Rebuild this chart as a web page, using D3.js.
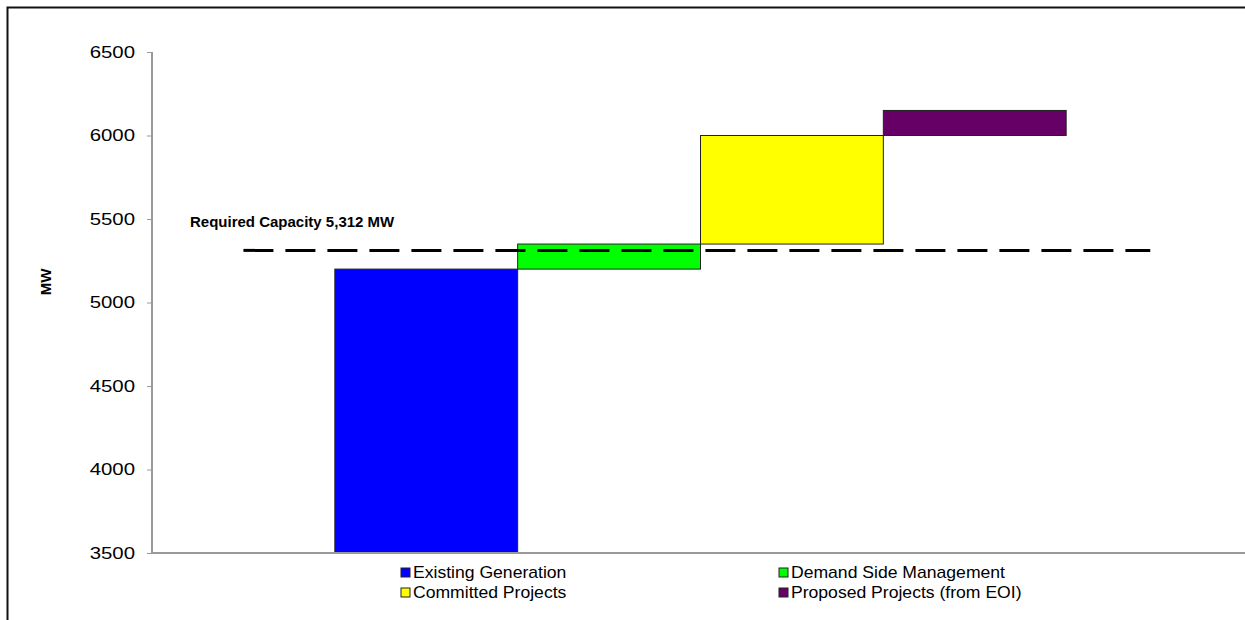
<!DOCTYPE html>
<html>
<head>
<meta charset="utf-8">
<script src="https://cdn.jsdelivr.net/npm/d3@7"></script>
<style>
  html, body { margin: 0; padding: 0; background: #fff; overflow: hidden; }
  svg { display: block; font-family: Arial, "Liberation Sans", sans-serif; }
</style>
</head>
<body>
<svg id="chart" width="1245" height="620"></svg>
<script>
// Supply build-up against the required capacity (MW)
const categories = ["Existing Generation", "Demand Side Management", "Committed Projects", "Proposed Projects (from EOI)"];
const increments = [5200, 150, 650, 150];
const colors = ["#0000ff", "#00ff00", "#ffff00", "#660066"];
const yTicks = [3500, 4000, 4500, 5000, 5500, 6000, 6500];
const requiredCapacity = 5312;
const requiredLabel = "Required Capacity 5,312 MW";
const requiredSpan = [0.5, 5.46]; // start/end of the requirement line, in slot units

const svg = d3.select("#chart");

// outer chart frame (top and left edges fall inside the view)
svg.append("path")
  .attr("d", "M7.5,620V7.5H1245")
  .attr("fill", "none").attr("stroke", "#111").attr("stroke-width", 2);

const plot = { left: 152, right: 1249, top: 52, bottom: 553 };

const y = d3.scaleLinear().domain([3500, 6500]).range([plot.bottom, plot.top]);
// six equal slots across the plot; the four steps sit in the middle four
const slot = d3.scaleLinear().domain([0, 6]).range([plot.left, plot.right]);
const x = d3.scaleBand().domain(categories)
  .range([slot(1), slot(5)]).paddingInner(0).paddingOuter(0);

// cumulative steps
let run = 0;
const steps = categories.map((c, i) => {
  const start = i === 0 ? 0 : run;
  run += increments[i];
  return { cat: c, start, end: run, color: colors[i] };
});

svg.append("clipPath").attr("id", "plotClip")
  .append("rect").attr("x", plot.left).attr("y", plot.top)
  .attr("width", plot.right - plot.left).attr("height", plot.bottom - plot.top);

svg.append("g").attr("clip-path", "url(#plotClip)")
  .selectAll("rect").data(steps).join("rect")
  .attr("x", d => x(d.cat))
  .attr("width", x.bandwidth())
  .attr("y", d => y(d.end))
  .attr("height", d => y(Math.max(d.start, 3500)) - y(d.end))
  .attr("fill", d => d.color)
  .attr("stroke", "#222").attr("stroke-width", 1);

// axes
const labelStretch = 1.2;
const yAxis = svg.append("g").attr("transform", `translate(${plot.left},0)`)
  .call(d3.axisLeft(y).tickValues(yTicks).tickSize(5).tickPadding(12).tickFormat(d3.format("d")));
yAxis.select(".domain").attr("stroke", "#999").attr("stroke-width", 2).attr("d", `M0,${plot.top}V${plot.bottom}`);
yAxis.selectAll(".tick line").attr("stroke", "#999");
yAxis.selectAll(".tick text")
  .attr("font-size", 17).attr("fill", "#000")
  .attr("font-family", "Arial, 'Liberation Sans', sans-serif")
  .attr("x", -17 / labelStretch)
  .attr("transform", `scale(${labelStretch},1)`);

svg.append("line")
  .attr("x1", plot.left).attr("x2", 1245)
  .attr("y1", plot.bottom).attr("y2", plot.bottom)
  .attr("stroke", "#999").attr("stroke-width", 2);

// requirement line
svg.append("line")
  .attr("x1", slot(requiredSpan[0])).attr("x2", slot(requiredSpan[1]))
  .attr("y1", y(requiredCapacity)).attr("y2", y(requiredCapacity))
  .attr("stroke", "#000").attr("stroke-width", 3)
  .attr("stroke-dasharray", "30,12");

svg.append("text")
  .attr("x", 190).attr("y", y(requiredCapacity) - 23)
  .attr("font-size", 15).attr("font-weight", "bold").text(requiredLabel);

// y title
svg.append("text")
  .attr("transform", `translate(51,282) rotate(-90)`)
  .attr("text-anchor", "middle").attr("font-size", 15).attr("font-weight", "bold")
  .text("MW");

// legend
const legendPos = [[401, 578], [779, 578], [401, 598], [779, 598]];
const legend = svg.append("g").selectAll("g").data(categories).join("g")
  .attr("transform", (d, i) => `translate(${legendPos[i][0]},${legendPos[i][1]})`);
legend.append("rect").attr("x", 0).attr("y", -10).attr("width", 9).attr("height", 9)
  .attr("fill", (d, i) => colors[i]).attr("stroke", "#222").attr("stroke-width", 1);
legend.append("text").attr("x", 12 / 1.1).attr("y", 0).attr("font-size", 16)
  .attr("transform", "scale(1.1,1)").text(d => d);
</script>
</body>
</html>
